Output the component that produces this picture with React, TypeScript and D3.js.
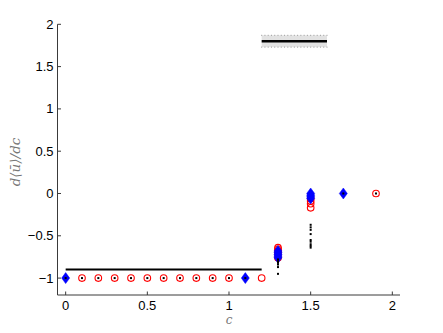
import React from 'react';
import * as d3 from 'd3';

// plot data
const xTicks = [0, 0.5, 1, 1.5, 2];
const yTicks = [-1, -0.5, 0, 0.5, 1, 1.5, 2];
const yTickLabels = ['\u22121', '\u22120.5', '0', '0.5', '1', '1.5', '2'];

const lowLineX = [0, 1.2];
const lowLineY = -0.9;

const bandX = [1.2, 1.6];
const bandY = 1.8;
const bandHalf = 0.07;

const circleX = [0.1, 0.2, 0.3, 0.4, 0.5, 0.6, 0.7, 0.8, 0.9, 1.0, 1.2, 1.3, 1.3, 1.3, 1.3, 1.3, 1.5, 1.5, 1.5, 1.5, 1.9];
const circleY = [-1, -1, -1, -1, -1, -1, -1, -1, -1, -1, -1, -0.64, -0.66, -0.68, -0.71, -0.76, -0.06, -0.09, -0.12, -0.17, 0];

const diamondX = [0, 1.1, 1.3, 1.3, 1.3, 1.3, 1.3, 1.5, 1.5, 1.5, 1.5, 1.7];
const diamondY = [-1, -1, -0.68, -0.7, -0.72, -0.74, -0.76, 0, -0.02, -0.04, -0.06, 0];

const dotX = [0, 0.1, 0.2, 0.3, 0.4, 0.5, 0.6, 0.7, 0.8, 0.9, 1.0, 1.1, 1.3, 1.3, 1.3, 1.3, 1.3, 1.3, 1.5, 1.5, 1.5, 1.5, 1.5, 1.5, 1.5, 1.5, 1.5, 1.7, 1.9];
const dotY = [-1, -1, -1, -1, -1, -1, -1, -1, -1, -1, -1, -1, -0.78, -0.8, -0.82, -0.84, -0.87, -0.95, -0.37, -0.4, -0.43, -0.48, -0.55, -0.57, -0.6, -0.62, -0.64, 0, 0];

const W = 443;
const H = 333;
const left = 57.5;
const right = 400;
const top = 24.3;
const bottom = 295;

export default function App() {
  const x = d3.scaleLinear().domain([-0.05, 2.047]).range([left, right]);
  const y = d3.scaleLinear().domain([-1.2, 2]).range([bottom, top]);
  const axisColor = '#3a3a3a';
  const font = 'Liberation Sans, Arial, sans-serif';

  const diamond = (cx: number, cy: number) =>
    `M${cx},${cy - 5.5}L${cx + 4},${cy}L${cx},${cy + 5.5}L${cx - 4},${cy}Z`;

  const dotted = d3.range(bandX[0], bandX[1] + 0.001, 0.02);

  return (
    <svg width={W} height={H} style={{ position: 'fixed', left: 0, top: 0, background: '#fff' }}>
      {/* gray band with dotted edges */}
      <rect x={x(bandX[0])} y={y(bandY + bandHalf)} width={x(bandX[1]) - x(bandX[0])}
        height={y(bandY - bandHalf) - y(bandY + bandHalf)} fill="#e2e2e2" />
      {dotted.map((d, i) => (
        <g key={i}>
          <rect x={x(d) - 0.5} y={y(bandY + bandHalf) - 0.5} width={1} height={1} fill="#999" />
          <rect x={x(d) - 0.5} y={y(bandY - bandHalf) - 0.5} width={1} height={1} fill="#999" />
        </g>
      ))}
      <line x1={x(bandX[0])} x2={x(bandX[1])} y1={y(bandY)} y2={y(bandY)} stroke="#000" strokeWidth={2.5} />

      {/* lower line */}
      <line x1={x(lowLineX[0])} x2={x(lowLineX[1])} y1={y(lowLineY)} y2={y(lowLineY)} stroke="#000" strokeWidth={2} />

      {/* red circles */}
      {circleX.map((cx, i) => (
        <circle key={'c' + i} cx={x(cx)} cy={y(circleY[i])} r={3.3} fill="none" stroke="#ff0000" strokeWidth={1.1} />
      ))}
      {/* blue diamonds */}
      {diamondX.map((dx, i) => (
        <path key={'d' + i} d={diamond(x(dx), y(diamondY[i]))} fill="#0000ff" stroke="#0000ff" strokeWidth={0.5} />
      ))}
      {/* black dots */}
      {dotX.map((px, i) => (
        <rect key={'p' + i} x={x(px) - 1} y={y(dotY[i]) - 1} width={2} height={2} fill="#000" />
      ))}

      {/* axes */}
      <line x1={left} x2={left} y1={top} y2={bottom} stroke={axisColor} strokeWidth={1} />
      <line x1={left} x2={right} y1={bottom} y2={bottom} stroke={axisColor} strokeWidth={1} />
      {yTicks.map((t, i) => (
        <g key={'yt' + i}>
          <line x1={left} x2={left + 3.5} y1={y(t)} y2={y(t)} stroke={axisColor} />
          <text x={left - 4} y={y(t)} dy="0.35em" textAnchor="end" fontFamily={font} fontSize={13} fill="#000">
            {yTickLabels[i]}
          </text>
        </g>
      ))}
      {xTicks.map((t, i) => (
        <g key={'xt' + i}>
          <line x1={x(t)} x2={x(t)} y1={bottom} y2={bottom - 3.5} stroke={axisColor} />
          <text x={x(t)} y={310} textAnchor="middle" fontFamily={font} fontSize={13} fill="#000">
            {t}
          </text>
        </g>
      ))}

      {/* axis labels */}
      <text x={x(1)} y={324} textAnchor="middle" fontFamily="DejaVu Serif, serif" fontStyle="italic" fontSize={12} fill="#777">
        c
      </text>
      <text transform={`translate(20,${162}) rotate(-90)`} textAnchor="middle" fontFamily="DejaVu Serif, serif"
        fontStyle="italic" fontSize={13.5} fill="#777">
        d{'\u27E8'}{'\u016B'}{'\u27E9'}/dc
      </text>
    </svg>
  );
}
